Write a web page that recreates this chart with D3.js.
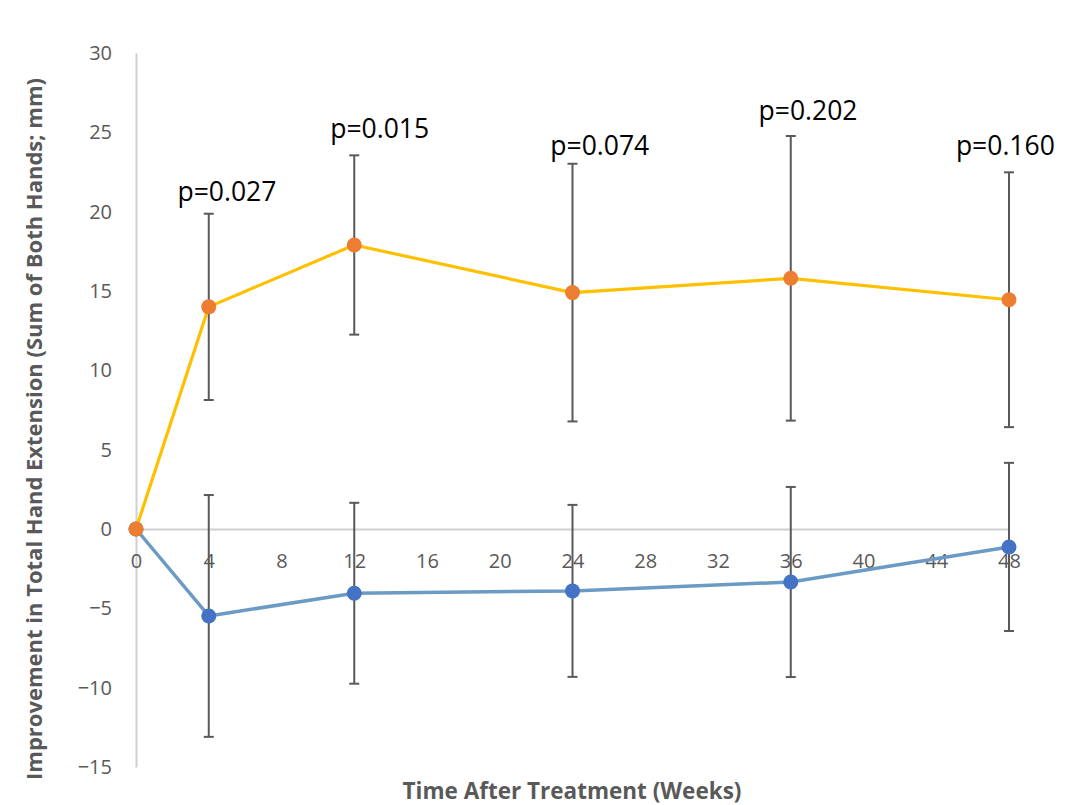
<!DOCTYPE html>
<html><head><meta charset="utf-8">
<script src="https://cdn.jsdelivr.net/npm/d3@7"></script>
<style>body{margin:0;background:#fff;}svg{display:block;}</style>
</head><body>
<script>
const weeks = [0, 4, 12, 24, 36, 48];
const treatedMean = [0, 14.0, 17.9, 14.9, 15.8, 14.45];
const treatedErr  = [0, 5.87, 5.65, 8.12, 8.97, 8.03];
const controlMean = [0, -5.48, -4.05, -3.9, -3.34, -1.13];
const controlErr  = [0, 7.62, 5.7, 5.42, 5.99, 5.3];
const pLabels = ["p=0.027", "p=0.015", "p=0.074", "p=0.202", "p=0.160"];
const pLabelX = [5.0, 13.4, 25.5, 36.95, 47.8];
const pLabelY = [21.3, 25.3, 24.2, 26.4, 24.2];
const xTicks = [0, 4, 8, 12, 16, 20, 24, 28, 32, 36, 40, 44, 48];
const yTicks = [-15, -10, -5, 0, 5, 10, 15, 20, 25, 30];
const xTitle = "Time After Treatment (Weeks)";
const yTitle = "Improvement in Total Hand Extension (Sum of Both Hands; mm)";

const W = 1066, H = 805;
const svg = d3.select("body").append("svg").attr("width", W).attr("height", H);
const x = d3.scaleLinear().domain([0, 48]).range([136, 1009]);
const y = d3.scaleLinear().domain([-15, 30]).range([767, 53]);
const font = "'Open Sans', 'Liberation Sans', sans-serif";

// y axis
const yAxis = d3.axisLeft(y).tickValues(yTicks).tickSize(0).tickPadding(24);
const gy = svg.append("g").attr("transform", `translate(${x(0)},0)`).call(yAxis);
gy.select(".domain").attr("stroke", "#d0d0d0").attr("stroke-width", 2);
gy.selectAll("text").attr("font-family", font).attr("font-size", 20).attr("fill", "#595959");

// x axis at zero
const xAxis = d3.axisBottom(x).tickValues(xTicks).tickSize(0).tickPadding(39);
const gx = svg.append("g").attr("transform", `translate(0,${y(0)})`).call(xAxis);
gx.select(".domain").attr("stroke", "#d0d0d0").attr("stroke-width", 2);
gx.selectAll("text").attr("font-family", font).attr("font-size", 20).attr("fill", "#595959")
  .attr("dy", "0");

function series(mean, err, lineColor, lineW, markColor) {
  const pts = weeks.map((w, i) => ({w, m: mean[i], e: err[i]}));
  const g = svg.append("g");
  const eb = pts.filter(d => d.e > 0);
  g.selectAll(".ev").data(eb).join("line")
    .attr("x1", d => x(d.w)).attr("x2", d => x(d.w))
    .attr("y1", d => y(d.m + d.e)).attr("y2", d => y(d.m - d.e))
    .attr("stroke", "#595959").attr("stroke-width", 2);
  [1, -1].forEach(s => {
    g.selectAll(null).data(eb).join("line")
      .attr("x1", d => x(d.w) - 5).attr("x2", d => x(d.w) + 5)
      .attr("y1", d => y(d.m + s * d.e)).attr("y2", d => y(d.m + s * d.e))
      .attr("stroke", "#595959").attr("stroke-width", 2);
  });
  g.append("path").datum(pts)
    .attr("d", d3.line().x(d => x(d.w)).y(d => y(d.m)))
    .attr("fill", "none").attr("stroke", lineColor).attr("stroke-width", lineW)
    .attr("stroke-linejoin", "round");
  g.selectAll("circle").data(pts).join("circle")
    .attr("cx", d => x(d.w)).attr("cy", d => y(d.m)).attr("r", 7.5)
    .attr("fill", markColor);
}
series(controlMean, controlErr, "#6b9ac4", 3.5, "#4472c4");
series(treatedMean, treatedErr, "#ffc000", 3.2, "#ed7d31");

// p labels
svg.append("g").selectAll("text").data(pLabels).join("text")
  .attr("x", (d, i) => x(pLabelX[i])).attr("y", (d, i) => y(pLabelY[i]))
  .attr("text-anchor", "middle").attr("dominant-baseline", "central")
  .attr("font-family", font).attr("font-size", 26.5).attr("fill", "#000")
  .text(d => d);

// titles
svg.append("text").attr("x", 572).attr("y", 790).attr("text-anchor", "middle")
  .attr("dominant-baseline", "central")
  .attr("font-family", font).attr("font-weight", "bold").attr("font-size", 22.5)
  .attr("fill", "#595959").text(xTitle);
svg.append("text").attr("transform", "translate(33,429) rotate(-90)")
  .attr("text-anchor", "middle").attr("dominant-baseline", "central")
  .attr("font-family", font).attr("font-weight", "bold").attr("font-size", 22)
  .attr("fill", "#595959").text(yTitle);
</script>
</body></html>
